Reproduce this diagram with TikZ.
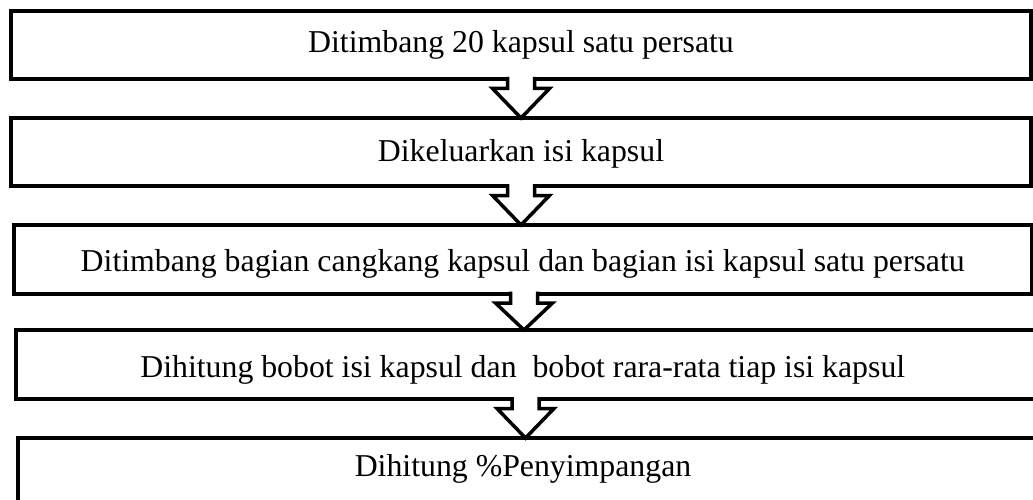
\documentclass[tikz,border=0pt]{standalone}
\usepackage{fontspec}
\setmainfont{Liberation Serif}
\usetikzlibrary{calc}
\newcommand\blockarrow[3]{% #1 upper node, #2 lower node, #3 x of the arrow axis
  \coordinate (ax) at (#3,0);
  \coordinate (at) at (#1.south -| ax);
  \coordinate (ab) at (#2.north -| ax);
  \filldraw[barrow] ($(at)+(-13.5,-2)$) -- ($(at)+(-13.5,9.5)$) -- ($(at)+(-28.5,9.5)$)
     -- (ab) -- ($(at)+(28.5,9.5)$) -- ($(at)+(13.5,9.5)$) -- ($(at)+(13.5,-2)$);
}
\begin{document}
\begin{tikzpicture}[x=1pt,y=-1pt,
  box/.style={draw, line width=4pt, rectangle, outer sep=0pt, inner sep=0pt,
    font=\fontsize{31.8}{38}\selectfont, text depth=0pt},
  barrow/.style={draw, fill=white, line width=3.5pt, line join=miter}]
\useasboundingbox (0,0) rectangle (1033,500);
\node[box, minimum width=1020, minimum height=67.5, text height=15] (b1) at (521,45.25)
  {Ditimbang 20 kapsul satu persatu};
\node[box, minimum width=1020, minimum height=68, text height=18] (b2) at (521,152)
  {Dikeluarkan isi kapsul};
\node[box, minimum width=1017.5, minimum height=68.5, text height=25] (b3) at (522.75,259.25)
  {Ditimbang bagian cangkang kapsul dan bagian isi kapsul satu persatu};
\node[box, minimum width=1022.5, minimum height=69, text height=25] (b4) at (526.75,364.5)
  {\hspace*{-8pt}Dihitung bobot isi kapsul dan\ \ bobot rara-rata tiap isi kapsul};
\node[box, minimum width=1020, minimum height=102, text height=0, text depth=26] (b5) at (528,489)
  {\hspace*{-10pt}Dihitung \%Penyimpangan};
\blockarrow{b1}{b2}{521}
\blockarrow{b2}{b3}{521}
\blockarrow{b3}{b4}{524}
\blockarrow{b4}{b5}{525.5}
\end{tikzpicture}
\end{document}
